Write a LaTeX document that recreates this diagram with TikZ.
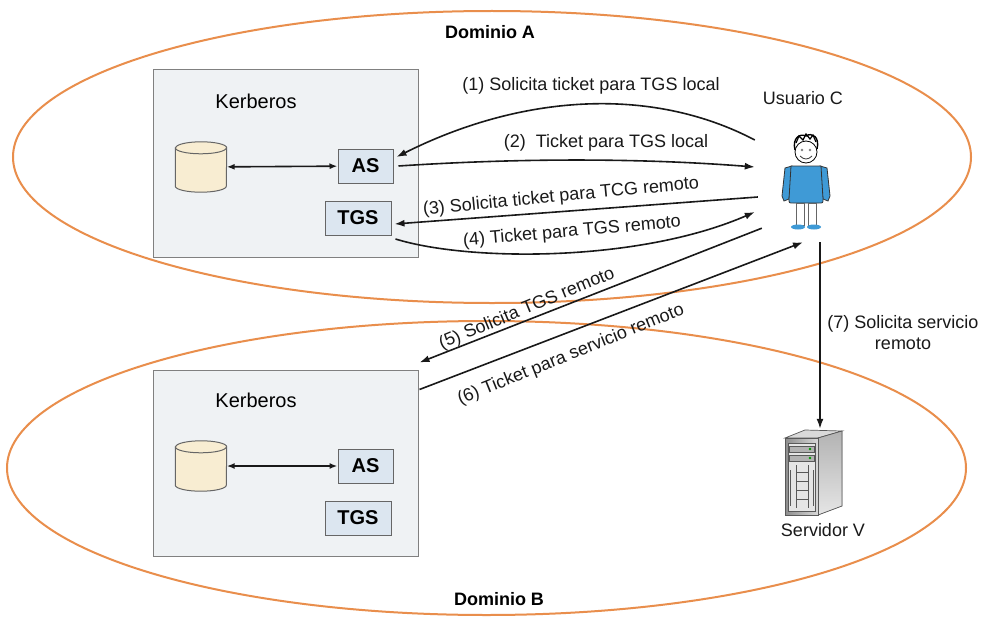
\documentclass[tikz,border=0pt]{standalone}
\usepackage{fontspec}
\setmainfont{Liberation Sans}
\usetikzlibrary{arrows.meta,positioning,calc,shapes.geometric}
\definecolor{domainorange}{HTML}{E98E4C}
\definecolor{kerbfill}{HTML}{EFF2F4}
\definecolor{srvfill}{HTML}{DCE6F0}
\definecolor{dbfill}{HTML}{F8EDD2}
\definecolor{userblue}{HTML}{3F9AD6}
\tikzset{
  domainline/.style={draw=domainorange,line width=2pt},
  kerb/.style={draw=black!50,fill=kerbfill,line width=1pt,minimum width=265pt,minimum height=187pt},
  srv/.style={draw=black!60,fill=srvfill,line width=1pt,font=\fontsize{20}{22}\selectfont\bfseries,
    minimum height=34pt,inner sep=0pt},
  db/.style={minimum width=51pt,minimum height=50pt,inner sep=0pt},
  cyl/.style={draw=black!60,fill=dbfill,line width=1pt},
  arrow/.style={-{Latex[length=10pt,width=7pt]},line width=1.6pt,draw=black!90},
  dblarrow/.style={{Latex[length=8pt,width=6pt]}-{Latex[length=8pt,width=6pt]},line width=1.6pt,draw=black!90},
  labelstyle/.style={font=\fontsize{18}{21}\selectfont,inner sep=0pt,text=black!90},
  title/.style={font=\fontsize{20}{22}\selectfont,inner sep=0pt},
  dom/.style={font=\fontsize{18}{21}\selectfont\bfseries,inner sep=0pt}
}

\begin{document}
\begin{tikzpicture}[x=1pt,y=-1pt]
  \useasboundingbox (0,0) rectangle (988,618);
  \fill[white] (0,0) rectangle (988,618);

  \draw[domainline] (492,157) ellipse [x radius=479pt, y radius=146pt];
  \draw[domainline] (486.5,468) ellipse [x radius=479.5pt, y radius=147pt];
  \node[dom] (domA) at (490,32) {Dominio A};
  \node[dom] (domB) at (499,599) {Dominio B};

  % domain A
  \node[kerb] (kerbA) at (285.5,163.5) {};
  \node[title] (titA) at (256,101) {Kerberos};
  \node[db] (dbA) at (201,167) {};
  \node[srv,minimum width=55pt] (asA) at (365.5,166) {AS};
  \node[srv,minimum width=66pt,below=17pt of asA.south east,anchor=north east,xshift=-2pt] (tgsA) {TGS};

  % domain B
  \node[kerb,minimum height=186pt] (kerbB) at (285.5,463) {};
  \node[title] (titB) at (256,400) {Kerberos};
  \node[db] (dbB) at (201,466) {};
  \node[srv,minimum width=55pt] (asB) at (365.5,466) {AS};
  \node[srv,minimum width=66pt,below=17pt of asB.south east,anchor=north east,xshift=-2pt] (tgsB) {TGS};

  % database cylinders
  \foreach \c in {dbA,dbB} {
    \filldraw[cyl] ([yshift=-6pt]\c.north west) -- ([yshift=6pt]\c.south west)
      arc[start angle=180,end angle=360,x radius=25.5pt,y radius=6pt]
      -- ([yshift=-6pt]\c.north east)
      arc[start angle=0,end angle=180,x radius=25.5pt,y radius=6pt] -- cycle;
    \draw[cyl,fill=none] ([yshift=-6pt]\c.north west) arc[start angle=180,end angle=360,x radius=25.5pt,y radius=6pt];
  }
  \draw[dblarrow] (dbA) -- (asA);
  \draw[dblarrow] (dbB) -- (asB);

  % user C
  \node[minimum width=130pt,minimum height=112pt,inner sep=0pt] (user) at (820,186) {};
  \node[labelstyle] (userlbl) at (803,98) {Usuario C};
  \begin{scope}[line width=0.8pt]
    \filldraw[fill=userblue,draw=black!80] (792,166) -- (785,168) -- (782,196) -- (784,201) -- (789,199) -- (790,190) -- cycle;
    \filldraw[fill=userblue,draw=black!80] (820,166) -- (827,168) -- (830,196) -- (828,201) -- (823,199) -- (822,190) -- cycle;
    \filldraw[fill=userblue,draw=black!80] (791,166) -- (821,166) -- (823,199) .. controls (823,203) .. (819,203)
      -- (793,203) .. controls (789,203) .. (789,199) -- cycle;
    \filldraw[fill=white,draw=black!60] (796,203) rectangle (804,225);
    \filldraw[fill=white,draw=black!60] (808,203) rectangle (816,225);
    \fill[userblue] (798,227) ellipse [x radius=7pt, y radius=2.5pt];
    \fill[userblue] (814,227) ellipse [x radius=7pt, y radius=2.5pt];
    \filldraw[fill=white,draw=black] (806,152) circle (11pt);
    \draw[black,line width=1.4pt] (795,150) .. controls (792,138) and (800,133) .. (806,136)
      .. controls (812,132) and (820,137) .. (817,149);
    \draw[black,line width=1.2pt] (796,143) -- (799,136) -- (803,140) -- (806,134) -- (810,139) -- (813,135) -- (816,142);
    \fill[black!50] (802,150) circle (1.3pt) (810,150) circle (1.3pt);
    \draw[black!80] (800,156) .. controls (804,160) and (808,160) .. (812,156);
  \end{scope}

  % server V
  \node[minimum width=60pt,minimum height=86pt,inner sep=0pt] (server) at (820,472) {};
  \node[labelstyle] (srvlbl) at (823,530) {Servidor V};
  \begin{scope}[line width=0.7pt,draw=black!65]
    \filldraw[fill=black!15] (785,438) -- (805,430) -- (842,431) -- (818,438) -- cycle;
    \filldraw[top color=black!30,bottom color=black!10] (818,438) -- (842,431) -- (842,506) -- (818,515) -- cycle;
    \filldraw[left color=black!45,right color=black!15] (785,438) rectangle (818,515);
    \draw[fill=black!10] (788,443) rectangle (815,511);
    \draw[fill=black!30] (789,446) rectangle (814,452);
    \draw[fill=black!30] (789,455) rectangle (814,461);
    \fill[green!60!black] (810,449) circle (1.3pt) (810,458) circle (1.3pt);
    \draw (796,465) -- (796,508) (808,465) -- (808,508);
    \draw (796,472) -- (808,472) (796,481) -- (808,481) (796,490) -- (808,490) (796,499) -- (808,499);
    \draw (790,470) -- (790,506) (813,470) -- (813,506);
  \end{scope}

  % messages
  \draw[arrow] ([yshift=46pt]user.west) .. controls (650,85) and (520,95) .. ([shift={(3pt,9pt)}]asA.east);
  \node[labelstyle] (m1) at (591,86) {(1) Solicita ticket para TGS local};
  \draw[arrow] ([xshift=5pt]asA.east) .. controls (520,158) and (640,158) .. ([yshift=19pt]user.west);
  \node[labelstyle] (m2) at (606,143) {(2)\ \ Ticket para TGS local};
  \draw[arrow] ([shift={(3pt,-11pt)}]user.west) -- ([shift={(3pt,-6pt)}]tgsA.east);
  \node[labelstyle,rotate=5.5] (m3) at (561,197) {(3) Solicita ticket para TCG remoto};
  \draw[arrow] ([shift={(4pt,-21pt)}]tgsA.east) .. controls (470,262) and (640,262) .. ([yshift=-26pt]user.west);
  \node[labelstyle,rotate=5] (m4) at (572,232) {(4) Ticket para TGS remoto};
  \draw[arrow] ([shift={(7pt,14pt)}]user.south west) -- ([shift={(1pt,7pt)}]kerbB.north east);
  \node[labelstyle,rotate=22.5] (m5) at (527,309) {(5) Solicita TGS remoto};
  \draw[arrow] ([shift={(1pt,-20pt)}]kerbB.north east) -- ([xshift=-17pt]user.south);
  \node[labelstyle,rotate=22] (m6) at (571,355) {(6) Ticket para servicio remoto};
  \draw[arrow] (user.south) -- (server.north);
  \node[labelstyle,align=center] (m7) at (903,333) {(7) Solicita servicio\\remoto};
\end{tikzpicture}
\end{document}
